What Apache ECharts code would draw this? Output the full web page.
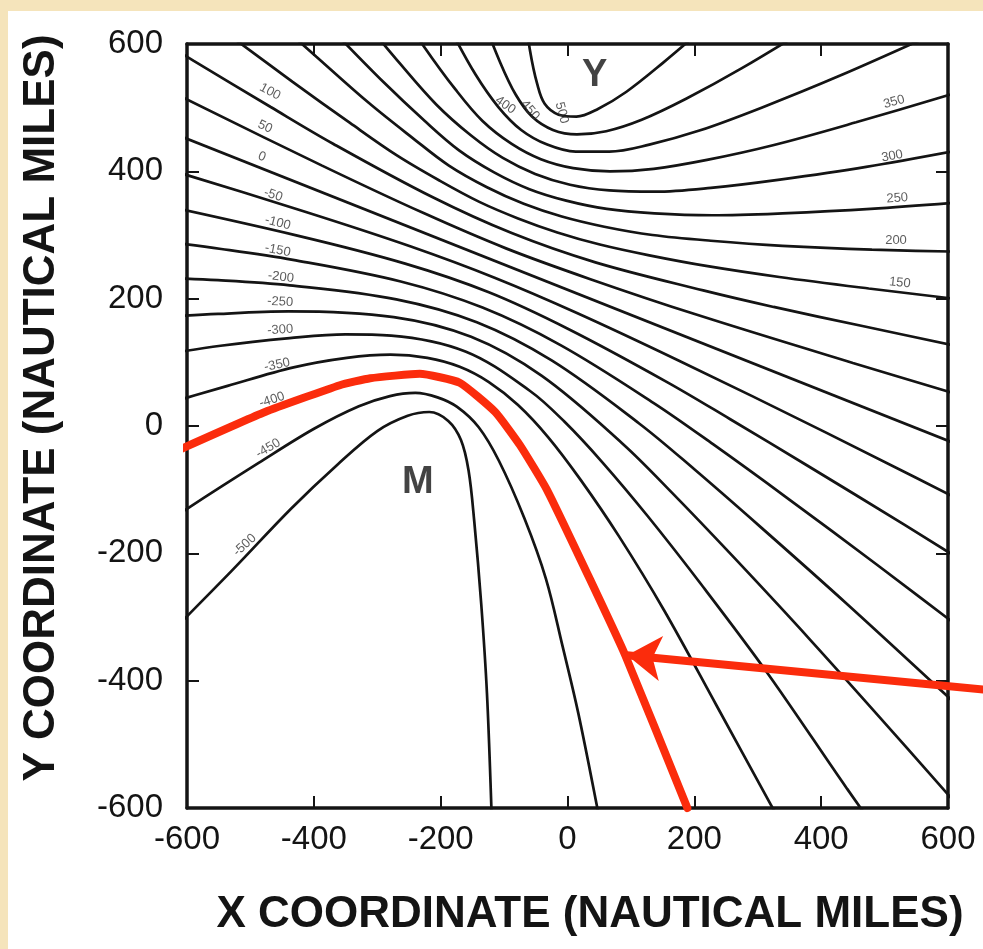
<!DOCTYPE html>
<html>
<head>
<meta charset="utf-8">
<script src="https://cdn.jsdelivr.net/npm/echarts@6/dist/echarts.min.js"></script>
<style>
html, body { margin: 0; padding: 0; background: #fff; }
#chart { width: 983px; height: 949px; }
</style>
</head>
<body>
<div id="chart"></div>
<script>
// axis ticks (nautical miles)
var axisMin = -600, axisMax = 600, axisStep = 200;

// contour lines as [x, y] in nautical miles
var c500 = [[-69,660],[-59,589],[-48,538],[-36,506],[-14,489],[14,486],[48,498],[93,525],[150,570],[224,633]];
var c450 = [[-135,644],[-107,573],[-82,521],[-56,486],[-23,465],[15,458],[61,463],[117,481],[187,514],[275,562],[388,630]];
var c400 = [[-184,622],[-145,552],[-109,501],[-73,465],[-32,442],[13,431],[66,431],[129,442],[208,464],[306,500],[429,550],[587,620]];
var c350 = [[-286,685],[-227,597],[-177,529],[-134,479],[-88,443],[-42,419],[9,405],[67,400],[136,404],[220,418],[324,441],[455,477],[622,526]];
var c300 = [[-334,653],[-264,569],[-207,505],[-153,457],[-102,421],[-51,396],[4,379],[66,370],[138,368],[226,374],[335,387],[471,407],[643,438]];
var c250 = [[-366,617],[-289,539],[-225,479],[-171,433],[-115,398],[-60,372],[-2,354],[62,341],[137,334],[228,331],[339,334],[478,341],[654,354]];
var c200 = [[-500,672],[-396,580],[-314,508],[-245,453],[-187,409],[-127,375],[-69,349],[-9,329],[58,313],[134,300],[226,291],[339,283],[480,277],[657,273]];
var c150 = [[-547,624],[-434,541],[-343,476],[-269,425],[-201,385],[-139,352],[-78,326],[-16,304],[51,285],[129,268],[221,251],[334,234],[475,216],[651,195]];
var c100 = [[-743,667],[-590,574],[-468,501],[-369,443],[-214,360],[-88,303],[44,257],[214,213],[325,187],[465,157],[640,120]];
var c50 = [[-619,522],[-387,409],[-226,334],[-97,279],[35,231],[203,175],[450,99],[621,48]];
var c0 = [[-620,459],[620,-31]];
var cm50 = [[-662,413],[-415,337],[-247,282],[-115,233],[14,178],[175,103],[407,-10],[769,-192]];
var cm100 = [[-677,355],[-426,299],[-256,255],[-124,210],[2,152],[157,69],[256,11],[378,-62],[531,-155],[723,-274]];
var cm150 = [[-687,296],[-546,278],[-433,261],[-263,227],[-134,186],[-11,127],[136,36],[230,-29],[345,-112],[488,-218],[668,-354]];
var cm200 = [[-692,235],[-551,229],[-438,221],[-270,199],[-143,163],[-25,103],[113,4],[200,-68],[306,-160],[439,-278],[605,-430]];
var cm250 = [[-690,168],[-551,176],[-440,180],[-274,171],[-152,140],[-41,79],[86,-27],[165,-105],[262,-206],[382,-335],[532,-502],[722,-717]];
var cm300 = [[-683,105],[-547,126],[-438,138],[-350,144],[-278,142],[-161,117],[-59,55],[-5,7],[55,-57],[126,-141],[211,-249],[316,-389],[441,-570],[606,-803]];
var cm350 = [[-667,25],[-536,63],[-432,92],[-348,107],[-279,112],[-221,107],[-170,93],[-124,69],[-78,33],[-31,-17],[21,-85],[81,-173],[152,-289],[235,-439],[341,-632]];
var cm450 = [[-743,-224],[-600,-130],[-487,-58],[-399,-4],[-329,31],[-280,47],[-240,52],[-205,45],[-174,30],[-140,-2],[-108,-55],[-68,-145],[-34,-240],[-8,-345],[17,-451],[47,-600],[62,-680]];
var cm500 = [[-650,-349],[-530,-228],[-436,-130],[-362,-60],[-300,-8],[-252,16],[-218,22],[-188,8],[-168,-22],[-156,-70],[-147,-150],[-136,-280],[-127,-420],[-120,-600],[-117,-700]];

var contourLines = [c500, c450, c400, c350, c300, c250, c200, c150, c100, c50, c0,
  cm50, cm100, cm150, cm200, cm250, cm300, cm350, cm450, cm500];

// contour value labels
var labelText = ['100','50','0','-50','-100','-150','-200','-250','-300','-350','-400','-450','-500',
  '350','300','250','200','150', '400','450','500'];
var labelPos = [[-469,525],[-477,470],[-482,423],[-464,363],[-457,319],[-457,276],[-452,234],[-453,195],
  [-453,151],[-458,96],[-466,41],[-472,-35],[-509,-187],
  [515,509],[512,424],[520,358],[518,291],[524,225],
  [-98,504],[-59,496],[-9,492]];
var labelAngle = [-28,-25,-21,-18,-14,-11,-7,-3,4,12,18,30,42, 16,10,4,0,-6, -35,-50,-75];

// station letters
var stationText = ['Y', 'M'];
var stationPos = [[43,551], [-236,-89]];

// red route along the -400 line and the pointer arrow
var routePath = [[-614,-38],[-477,22],[-359,64],[-311,75],[-233,82],[-170,68],[-114,22],[-75,-30],[-32,-101],[36,-242],[91,-360],[189,-600]];
var arrowFrom = [666,-415];
var arrowTo = [94,-360];

var chart = echarts.init(document.getElementById('chart'), null, { renderer: 'canvas' });

var fontFam = '"Liberation Sans", Arial, Helvetica, sans-serif';
var ink = '#141414';
var red = '#fb2c0c';

function frameAxis(pos, showLabel) {
  return {
    type: 'value',
    min: axisMin,
    max: axisMax,
    interval: axisStep,
    position: pos,
    axisLine: { show: true, onZero: false, lineStyle: { color: ink, width: 3.5 } },
    axisTick: { show: true, inside: true, length: 12, lineStyle: { color: ink, width: 2 } },
    axisLabel: {
      show: showLabel,
      color: ink,
      fontSize: 33,
      fontFamily: fontFam,
      margin: pos === 'bottom' ? 15 : 24
    },
    splitLine: { show: false }
  };
}

var series = [];
contourLines.forEach(function (pts) {
  series.push({
    type: 'line',
    data: pts,
    smooth: 0.35,
    symbol: 'none',
    clip: true,
    silent: true,
    lineStyle: { color: ink, width: 2.7 },
    z: 2
  });
});

series.push({
  type: 'scatter',
  symbolSize: 0,
  silent: true,
  data: labelText.map(function (t, i) {
    return { value: labelPos[i], name: t, label: { rotate: labelAngle[i] } };
  }),
  label: {
    show: true,
    position: 'inside',
    formatter: '{b}',
    fontSize: 13,
    color: '#333',
    fontFamily: fontFam
  },
  z: 3
});

series.push({
  type: 'scatter',
  symbolSize: 0,
  silent: true,
  data: stationText.map(function (t, i) {
    return { value: stationPos[i], name: t };
  }),
  label: {
    show: true,
    position: 'inside',
    formatter: '{b}',
    fontSize: 38,
    fontWeight: 'bold',
    color: ink,
    fontFamily: fontFam
  },
  z: 3
});

series.push({
  type: 'line',
  data: routePath,
  symbol: 'none',
  clip: false,
  silent: true,
  smooth: 0.15,
  lineStyle: { color: red, width: 8, cap: 'round', join: 'round' },
  z: 5
});

series.push({
  type: 'lines',
  coordinateSystem: 'cartesian2d',
  clip: false,
  silent: true,
  symbol: ['none', 'arrow'],
  symbolSize: 34,
  lineStyle: { color: red, width: 8, opacity: 1, curveness: 0 },
  data: [{ coords: [arrowFrom, arrowTo] }],
  z: 6
});

chart.setOption({
  animation: false,
  backgroundColor: '#fff',
  grid: { left: 187, top: 44, right: 35, bottom: 141, containLabel: false },
  xAxis: [frameAxis('bottom', true), frameAxis('top', false)],
  yAxis: [frameAxis('left', true), frameAxis('right', false)],
  graphic: [
    { type: 'rect', shape: { x: 0, y: 0, width: 983, height: 11 }, style: { fill: '#f5e4bb' }, silent: true },
    { type: 'rect', shape: { x: 0, y: 0, width: 8, height: 949 }, style: { fill: '#f5e4bb' }, silent: true },
    {
      type: 'text', x: 590, y: 915, silent: true,
      style: { text: 'X COORDINATE (NAUTICAL MILES)', font: 'bold 44px ' + fontFam, fill: ink, align: 'center', verticalAlign: 'middle' }
    },
    {
      type: 'text', x: 42, y: 408, rotation: Math.PI / 2, silent: true,
      style: { text: 'Y COORDINATE (NAUTICAL MILES)', font: 'bold 44px ' + fontFam, fill: ink, align: 'center', verticalAlign: 'middle' }
    }
  ],
  series: series
});
</script>
</body>
</html>
